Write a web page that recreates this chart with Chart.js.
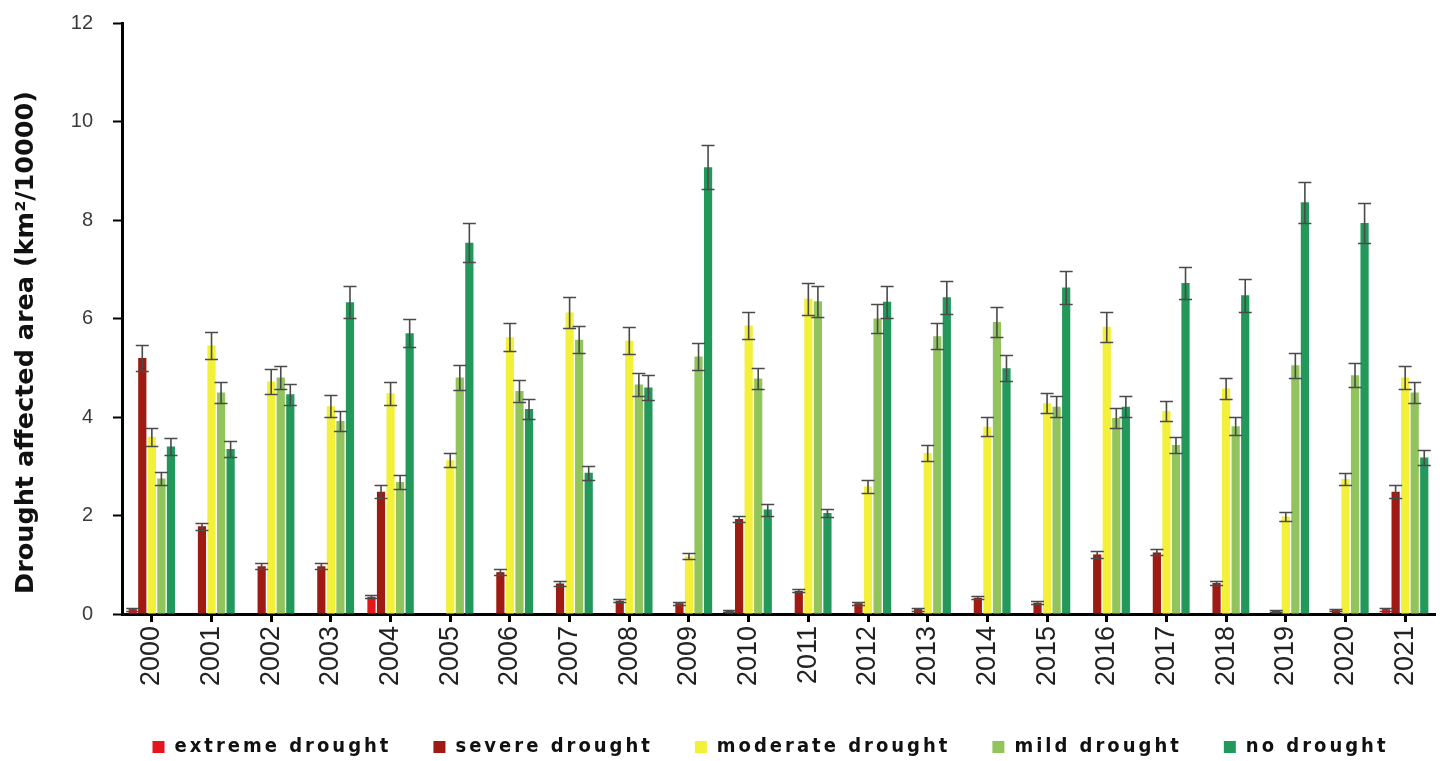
<!DOCTYPE html>
<html>
<head>
<meta charset="utf-8">
<script src="https://cdn.jsdelivr.net/npm/chart.js@4.4.1/dist/chart.umd.min.js"></script>
<style>
  html, body { margin: 0; padding: 0; background: #ffffff; }
  #wrap { width: 1445px; height: 761px; position: relative; }
</style>
</head>
<body>
<div id="wrap"><canvas id="chart"></canvas></div>
<script>
// Drought affected area per year and drought class (km²/10000), with error margins
const years = ['2000','2001','2002','2003','2004','2005','2006','2007','2008','2009','2010',
               '2011','2012','2013','2014','2015','2016','2017','2018','2019','2020','2021'];

const seriesNames = ['extreme drought', 'severe drought', 'moderate drought', 'mild drought', 'no drought'];

const extremeDrought = [0.10, 0, 0, 0, 0.35, 0, 0, 0, 0, 0, 0.07, 0, 0, 0, 0, 0, 0, 0, 0, 0, 0, 0.10];
const extremeErr     = [0.03, 0, 0, 0, 0.03, 0, 0, 0, 0, 0, 0.02, 0, 0, 0, 0, 0, 0, 0, 0, 0, 0, 0.03];

const severeDrought = [5.20, 1.78, 0.97, 0.97, 2.48, 0, 0.85, 0.62, 0.27, 0.22, 1.93,
                       0.47, 0.22, 0.10, 0.33, 0.23, 1.21, 1.25, 0.63, 0.06, 0.08, 2.48];
const severeErr     = [0.27, 0.07, 0.06, 0.06, 0.13, 0, 0.06, 0.05, 0.03, 0.03, 0.07,
                       0.03, 0.03, 0.03, 0.03, 0.03, 0.07, 0.06, 0.05, 0.02, 0.02, 0.13];

const moderateDrought = [3.60, 5.45, 4.72, 4.22, 4.48, 3.12, 5.62, 6.12, 5.55, 1.17, 5.86,
                         6.40, 2.59, 3.27, 3.80, 4.28, 5.83, 4.12, 4.58, 1.98, 2.74, 4.80];
const moderateErr     = [0.18, 0.28, 0.25, 0.22, 0.23, 0.14, 0.29, 0.31, 0.27, 0.06, 0.28,
                         0.32, 0.14, 0.17, 0.19, 0.20, 0.30, 0.20, 0.22, 0.10, 0.12, 0.24];

const mildDrought = [2.75, 4.50, 4.80, 3.92, 2.68, 4.80, 4.53, 5.57, 4.66, 5.23, 4.78,
                     6.35, 6.00, 5.64, 5.93, 4.21, 3.98, 3.43, 3.81, 5.05, 4.85, 4.50];
const mildErr     = [0.14, 0.22, 0.23, 0.20, 0.14, 0.25, 0.23, 0.28, 0.23, 0.27, 0.22,
                     0.32, 0.30, 0.26, 0.30, 0.22, 0.20, 0.17, 0.18, 0.25, 0.25, 0.22];

const noDrought = [3.40, 3.35, 4.46, 6.33, 5.70, 7.54, 4.16, 2.87, 4.60, 9.07, 2.12,
                   2.05, 6.34, 6.43, 4.99, 6.63, 4.21, 6.72, 6.47, 8.36, 7.94, 3.18];
const noErr     = [0.18, 0.16, 0.22, 0.32, 0.28, 0.39, 0.20, 0.14, 0.25, 0.45, 0.12,
                   0.08, 0.32, 0.33, 0.26, 0.33, 0.22, 0.33, 0.33, 0.42, 0.40, 0.16];

const yTicks = [0, 2, 4, 6, 8, 10, 12];
const yTitle = 'Drought affected area (km\u00B2/10000)';

const colors = ['#e3161b', '#9e1a12', '#f3f03a', '#91c45d', '#22995a'];

// Vertical error bars with caps, drawn on each bar through the value scale
const errorBars = {
  id: 'errorBars',
  afterDatasetsDraw(chart) {
    const ctx = chart.ctx;
    const yScale = chart.scales.y;
    ctx.save();
    ctx.strokeStyle = '#4a4a4a';
    ctx.lineWidth = 1.6;
    chart.data.datasets.forEach((ds, i) => {
      const meta = chart.getDatasetMeta(i);
      if (meta.hidden) return;
      meta.data.forEach((bar, j) => {
        const v = ds.data[j];
        const e = ds.errors[j];
        if (!v) return;
        const yTop = Math.round(yScale.getPixelForValue(v + e)) + 0.5;
        const yBot = Math.round(yScale.getPixelForValue(v - e)) + 0.5;
        const x = bar.x;
        const hw = 6.5;
        ctx.beginPath();
        ctx.moveTo(x, yTop); ctx.lineTo(x, yBot);
        ctx.moveTo(x - hw, yTop); ctx.lineTo(x + hw, yTop);
        ctx.moveTo(x - hw, yBot); ctx.lineTo(x + hw, yBot);
        ctx.stroke();
      });
    });
    ctx.restore();
  }
};

// Rotated y-axis title at the left edge
const sideTitle = {
  id: 'sideTitle',
  afterDraw(chart) {
    const ctx = chart.ctx;
    const area = chart.chartArea;
    ctx.save();
    ctx.translate(26, (area.top + area.bottom) / 2 + 24);
    ctx.rotate(-Math.PI / 2);
    ctx.font = 'bold 25.5px "DejaVu Sans"';
    ctx.fillStyle = '#111111';
    ctx.textAlign = 'center';
    ctx.textBaseline = 'middle';
    ctx.fillText(yTitle, 0, 0);
    ctx.restore();
  }
};

// Legend: tracked lettering, fixed box height, single row centred under the plot area
const legendStyle = {
  id: 'legendStyle',
  afterInit(chart) {
    const lg = chart.legend;
    if (!lg) return;
    const tracked = (fn) => function (...args) {
      const ctx = this.ctx;
      const prev = ctx.letterSpacing;
      ctx.letterSpacing = '3px';
      const out = fn.apply(this, args);
      ctx.letterSpacing = prev || '0px';
      return out;
    };
    const fit = tracked(lg.fit);
    lg.fit = function () { fit.call(this); this.height = 66; };
    lg.draw = tracked(lg.draw);
  },
  afterLayout(chart) {
    const lg = chart.legend;
    if (lg) {
      const mid = (chart.chartArea.left + chart.chartArea.right) / 2 - 8;
      lg.left = mid - 720;
      lg.right = mid + 720;
    }
  }
};

const values = [extremeDrought, severeDrought, moderateDrought, mildDrought, noDrought];
const errors = [extremeErr, severeErr, moderateErr, mildErr, noErr];

const datasets = seriesNames.map((name, i) => ({
  label: name,
  data: values[i],
  errors: errors[i],
  backgroundColor: colors[i],
  borderWidth: 0,
  categoryPercentage: 0.8,
  barPercentage: 0.86
}));

new Chart(document.getElementById('chart'), {
  type: 'bar',
  data: { labels: years, datasets },
  options: {
    responsive: true,
    maintainAspectRatio: false,
    animation: false,
    layout: { padding: { top: 23, right: 10, left: 0, bottom: 0 } },
    plugins: {
      legend: {
        position: 'bottom',
        labels: {
          boxWidth: 12,
          boxHeight: 12,
          padding: 42,
          color: '#111111',
          font: { family: '"DejaVu Sans Condensed", "DejaVu Sans"', weight: 'bold', size: 20 }
        }
      },
      tooltip: { enabled: false }
    },
    scales: {
      x: {
        grid: {
          display: true,
          drawOnChartArea: false,
          drawTicks: true,
          offset: false,
          tickLength: 8,
          tickWidth: 3,
          tickColor: '#000000'
        },
        border: { display: true, color: '#000000', width: 3 },
        ticks: {
          minRotation: 90,
          maxRotation: 90,
          padding: 4,
          color: '#222222',
          font: { family: '"Liberation Sans"', size: 27 }
        },
        afterFit(scale) { scale.height = 81; }
      },
      y: {
        min: 0,
        max: 12,
        afterBuildTicks(scale) { scale.ticks = yTicks.map(v => ({ value: v })); },
        grid: {
          display: true,
          drawOnChartArea: false,
          drawTicks: true,
          tickLength: 9,
          tickWidth: 2,
          tickColor: '#000000'
        },
        border: { display: true, color: '#000000', width: 3 },
        ticks: {
          padding: 20,
          color: '#3a3a3a',
          font: { family: '"Liberation Sans"', size: 20 }
        },
        afterFit(scale) {
          scale.width = 122;
          scale.paddingTop = 0;
          scale.paddingBottom = 0;
        }
      }
    }
  },
  plugins: [errorBars, sideTitle, legendStyle]
});
</script>
</body>
</html>
